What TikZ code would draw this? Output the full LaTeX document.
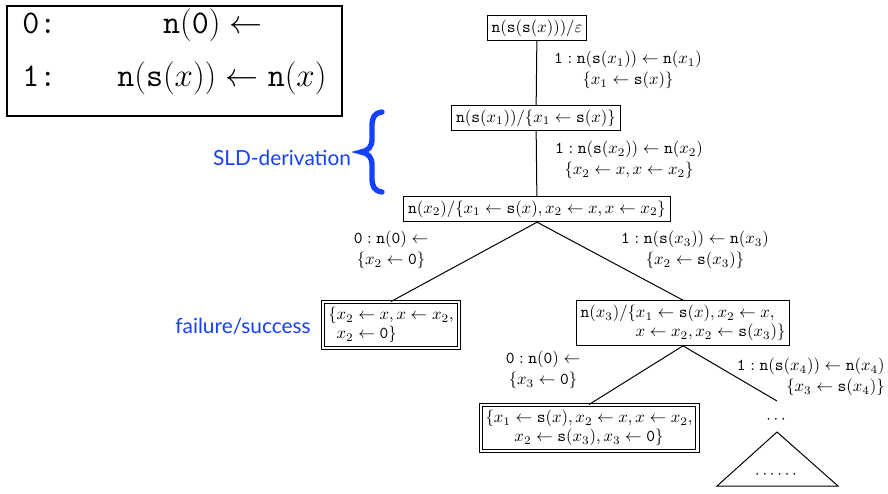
\RequirePackage{fix-cm}
\documentclass[tikz,border=0pt]{standalone}
\usepackage{fontspec}
\newfontfamily\labelfont{Lato}
\definecolor{sldblue}{RGB}{22,64,255}
\newcommand{\tn}{\mathtt{n}}
\newcommand{\ts}{\mathtt{s}}
\newcommand{\la}{\leftarrow}
\begin{document}
\begin{tikzpicture}[x=0.6pt,y=-0.6pt,
  treebox/.style={draw, line width=0.6pt, inner sep=2.6pt, font=\fontsize{10}{11.6}\selectfont},
  leafbox/.style={draw, double, line width=0.6pt, double distance=1.3pt, inner sep=3pt, font=\fontsize{10}{11.6}\selectfont},
  edge/.style={line width=0.6pt},
  lbl/.style={inner sep=0pt, align=center, font=\fontsize{10}{12.5}\selectfont},
  bluelbl/.style={inner sep=0pt, text=sldblue, font=\labelfont\fontsize{12.5}{15}\selectfont},
  bigtext/.style={inner sep=0pt, font=\fontsize{19.8}{24}\selectfont}
]
\useasboundingbox (0,0) rectangle (888,493);

% program clauses
\draw[line width=0.9pt] (7,6) rectangle (342,116);
\node[bigtext, anchor=base west] (c0) at (22,33) {\texttt{0:}};
\node[bigtext, anchor=base east] (h0) at (263,33) {$\tn(\mathtt{0})\la$};
\node[bigtext, anchor=base west] (c1) at (22,86) {\texttt{1:}};
\node[bigtext, anchor=base west] (h1) at (117,86) {$\tn(\ts(x))\la\tn(x)$};

% side labels
\node[bluelbl] (sld) at (282,158) {SLD-derivation};
\node[bluelbl] (fs) at (243,326) {failure/success};
\draw[sldblue, line width=3.2pt, line cap=round]
  (382,112) .. controls (374,113) and (372,118) .. (372,126) -- (372,139)
  .. controls (372,147) and (368,151) .. (361,152)
  .. controls (368,153) and (372,157) .. (372,165) -- (372,178)
  .. controls (372,186) and (374,191) .. (382,192);

% derivation tree
\node[treebox] (n0) at (537,28) {$\tn(\ts(\ts(x)))/\varepsilon$};
\node[treebox] (n1) at (536,118) {$\tn(\ts(x_1))/\{x_1\la\ts(x)\}$};
\node[treebox] (n2) at (537,209) {$\tn(x_2)/\{x_1\la\ts(x),x_2\la x,x\la x_2\}$};
\node[leafbox, align=left] (l1) at (391,325)
  {$\{x_2\la x,x\la x_2,$\\$\phantom{\{}x_2\la\mathtt{0}\}$};
\node[treebox, align=left] (n3) at (683,323)
  {$\tn(x_3)/\{x_1\la\ts(x),x_2\la x,$\\\hspace*{33pt}$x\la x_2,x_2\la\ts(x_3)\}$};
\node[leafbox, align=center] (l2) at (589,428)
  {$\{x_1\la\ts(x),x_2\la x,x\la x_2,$\\$x_2\la\ts(x_3),x_3\la\mathtt{0}\}$};
\coordinate (n4) at (777,401);
\node[inner sep=0pt] (dots) at (776,420) {$\cdots$};

\draw[edge] (n0) -- (n1);
\draw[edge] (n1) -- (n2);
\draw[edge] (n2.south) -- (l1.north);
\draw[edge] (n2.south) -- (n3.north);
\draw[edge] (n3.south) -- (l2.north);
\draw[edge] (n3.south) -- (n4);

% unexplored subtree
\draw[edge] (777,432) -- (838,486) -- (717,486) -- cycle;
\node[inner sep=0pt] (more) at (776,475) {$\cdots\cdots$};

% edge labels
\node[lbl] (e1) at (628,70) {$\mathtt{1}:\tn(\ts(x_1))\la\tn(x_1)$\\$\{x_1\la\ts(x)\}$};
\node[lbl] (e2) at (629,160) {$\mathtt{1}:\tn(\ts(x_2))\la\tn(x_2)$\\$\{x_2\la x,x\la x_2\}$};
\node[lbl] (e3) at (391,250) {$\mathtt{0}:\tn(\mathtt{0})\la$\\$\{x_2\la\mathtt{0}\}$};
\node[lbl] (e4) at (695,250) {$\mathtt{1}:\tn(\ts(x_3))\la\tn(x_3)$\\$\{x_2\la\ts(x_3)\}$};
\node[lbl] (e5) at (543,370) {$\mathtt{0}:\tn(\mathtt{0})\la$\\$\{x_3\la\mathtt{0}\}$};
\node[lbl, align=right, anchor=east] (e6) at (885,377) {$\mathtt{1}:\tn(\ts(x_4))\la\tn(x_4)$\\$\{x_3\la\ts(x_4)\}$};
\end{tikzpicture}
\end{document}
